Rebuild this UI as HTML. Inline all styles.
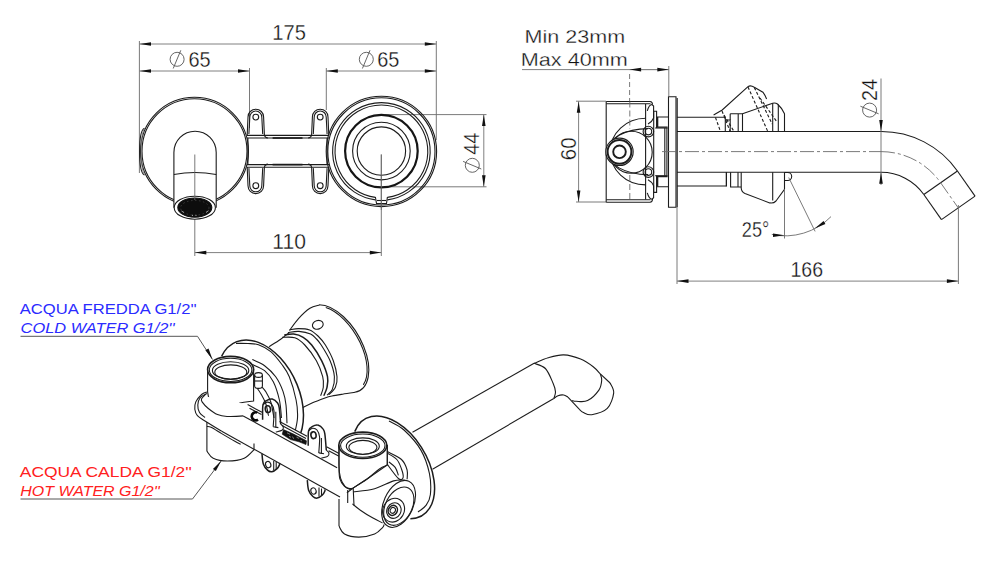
<!DOCTYPE html>
<html><head><meta charset="utf-8"><style>
html,body{margin:0;padding:0;background:#fff;width:1000px;height:568px;overflow:hidden}
svg{display:block}
.o{fill:none;stroke:#1c1c1c;stroke-width:1.1}
.d{fill:none;stroke:#808080;stroke-width:1}
.e{fill:none;stroke:#6b6b6b;stroke-width:0.9}
.c{fill:none;stroke:#6b6b6b;stroke-width:0.9;stroke-dasharray:14 3 3 3}
.ds{fill:none;stroke:#555;stroke-width:0.9}
.tl{font-family:"Liberation Sans",sans-serif}
.t{font-family:"Liberation Sans",sans-serif;stroke:#fff;stroke-width:0.3px;paint-order:fill stroke}
</style></head><body>
<svg width="1000" height="568" viewBox="0 0 1000 568">
<line x1="139.40" y1="41.00" x2="139.40" y2="173.00" class="e" />
<line x1="436.30" y1="41.00" x2="436.30" y2="140.00" class="e" />
<line x1="139.50" y1="44.00" x2="436.30" y2="44.00" class="d" />
<path d="M139.50,44.00 L151.00,42.20 L151.00,45.80 Z" fill="#111" stroke="none"/>
<path d="M436.30,44.00 L424.80,45.80 L424.80,42.20 Z" fill="#111" stroke="none"/>
<text x="272.3" y="40.3" font-size="22" fill="#111" text-anchor="start" textLength="33.6" lengthAdjust="spacingAndGlyphs" style="" class="t">175</text>
<line x1="139.50" y1="71.00" x2="249.50" y2="71.00" class="d" />
<line x1="249.50" y1="68.00" x2="249.50" y2="128.00" class="e" />
<path d="M139.50,71.00 L151.00,69.20 L151.00,72.80 Z" fill="#111" stroke="none"/>
<path d="M249.50,71.00 L238.00,72.80 L238.00,69.20 Z" fill="#111" stroke="none"/>
<g transform="rotate(0 177.1 59.3)">
<circle cx="177.10" cy="59.30" r="7.00" class="ds" />
<line x1="180.80" y1="50.30" x2="173.20" y2="68.50" class="ds" />
</g>
<text x="188.4" y="67.2" font-size="22" fill="#111" text-anchor="start" textLength="22.2" lengthAdjust="spacingAndGlyphs" style="" class="t">65</text>
<line x1="326.30" y1="71.00" x2="436.30" y2="71.00" class="d" />
<line x1="326.30" y1="68.00" x2="326.30" y2="110.00" class="e" />
<path d="M326.30,71.00 L337.80,69.20 L337.80,72.80 Z" fill="#111" stroke="none"/>
<path d="M436.30,71.00 L424.80,72.80 L424.80,69.20 Z" fill="#111" stroke="none"/>
<g transform="rotate(0 366.3 59.3)">
<circle cx="366.30" cy="59.30" r="7.00" class="ds" />
<line x1="370.00" y1="50.30" x2="362.40" y2="68.50" class="ds" />
</g>
<text x="377.2" y="67.2" font-size="22" fill="#111" text-anchor="start" textLength="22.2" lengthAdjust="spacingAndGlyphs" style="" class="t">65</text>
<line x1="194.80" y1="154.50" x2="194.80" y2="256.00" class="e" />
<line x1="381.30" y1="154.50" x2="381.30" y2="256.00" class="e" />
<line x1="194.80" y1="252.60" x2="381.30" y2="252.60" class="d" />
<path d="M194.80,252.60 L206.30,250.80 L206.30,254.40 Z" fill="#111" stroke="none"/>
<path d="M381.30,252.60 L369.80,254.40 L369.80,250.80 Z" fill="#111" stroke="none"/>
<text x="272.3" y="248.7" font-size="22" fill="#111" text-anchor="start" textLength="33.6" lengthAdjust="spacingAndGlyphs" style="" class="t">110</text>
<line x1="385.00" y1="114.60" x2="486.50" y2="114.60" class="e" />
<line x1="385.00" y1="186.80" x2="486.50" y2="186.80" class="e" />
<line x1="483.80" y1="114.60" x2="483.80" y2="186.80" class="d" />
<path d="M483.80,114.60 L485.60,126.10 L482.00,126.10 Z" fill="#111" stroke="none"/>
<path d="M483.80,186.80 L482.00,175.30 L485.60,175.30 Z" fill="#111" stroke="none"/>
<g transform="rotate(90 472.3 165.3)">
<circle cx="472.30" cy="165.30" r="7.00" class="ds" />
<line x1="476.00" y1="156.30" x2="468.40" y2="174.50" class="ds" />
</g>
<text x="0" y="0" font-size="22" fill="#111" textLength="22" lengthAdjust="spacingAndGlyphs" transform="translate(479.2,154.8) rotate(-90)" class="t">44</text>
<circle cx="194.50" cy="151.30" r="54.00" class="o" />
<circle cx="194.50" cy="151.30" r="52.50" class="o" />
<path d="M144.5,128.2 Q139.6,130 139.6,151.5 Q139.6,173 144.5,175.1" class="o" />
<path d="M144.5,128.2 Q141.2,133 141.2,151.5 Q141.2,170 144.5,175.1" class="o" style="stroke:#777;stroke-width:0.8"/>
<line x1="247.00" y1="135.40" x2="329.00" y2="135.40" class="o" />
<line x1="247.00" y1="138.00" x2="329.00" y2="138.00" class="o" />
<line x1="247.00" y1="164.60" x2="329.00" y2="164.60" class="o" />
<line x1="247.00" y1="167.20" x2="329.00" y2="167.20" class="o" />
<line x1="272.60" y1="138.00" x2="302.50" y2="138.00" class="o" style="stroke-width:1.7"/>
<line x1="272.60" y1="164.60" x2="302.50" y2="164.60" class="o" style="stroke-width:1.7"/>
<line x1="247.90" y1="138.00" x2="247.90" y2="164.60" class="o" />
<line x1="327.10" y1="138.00" x2="327.10" y2="164.60" class="o" />
<path d="M247.20000000000002,135.2 L248.0,117.0 A7.8,7.8 0 0 1 263.6,117.0 L264.40000000000003,135.2" class="o" />
<path d="M248.9,134.0 L249.8,117.0 A6.0,6.0 0 0 1 261.8,117.0 L262.7,134.0" class="o" />
<path d="M264.40000000000003,135.2 Q265.00000000000006,137.79999999999998 267.90000000000003,138.0" class="o" />
<circle cx="255.80" cy="117.10" r="2.90" class="o" />
<path d="M311.59999999999997,135.2 L312.4,117.0 A7.8,7.8 0 0 1 328.0,117.0 L328.8,135.2" class="o" />
<path d="M313.3,134.0 L314.2,117.0 A6.0,6.0 0 0 1 326.2,117.0 L327.09999999999997,134.0" class="o" />
<path d="M311.59999999999997,135.2 Q310.99999999999994,137.79999999999998 308.09999999999997,138.0" class="o" />
<circle cx="320.20" cy="117.10" r="2.90" class="o" />
<path d="M247.20000000000002,166.9 L248.0,185.79999999999998 A7.8,7.8 0 0 0 263.6,185.79999999999998 L264.40000000000003,166.9" class="o" />
<path d="M248.9,168.1 L249.8,185.79999999999998 A6.0,6.0 0 0 0 261.8,185.79999999999998 L262.7,168.1" class="o" />
<path d="M264.40000000000003,166.9 Q265.00000000000006,164.3 267.90000000000003,164.1" class="o" />
<circle cx="255.80" cy="185.70" r="2.90" class="o" />
<path d="M311.59999999999997,166.9 L312.4,185.79999999999998 A7.8,7.8 0 0 0 328.0,185.79999999999998 L328.8,166.9" class="o" />
<path d="M313.3,168.1 L314.2,185.79999999999998 A6.0,6.0 0 0 0 326.2,185.79999999999998 L327.09999999999997,168.1" class="o" />
<path d="M311.59999999999997,166.9 Q310.99999999999994,164.3 308.09999999999997,164.1" class="o" />
<circle cx="320.20" cy="185.70" r="2.90" class="o" />
<path d="M173.9,207.7 L173.9,152.4 A21.15,21.15 0 0 1 216.2,152.4 L216.2,207.7" class="o" style="fill:#fff"/>
<path d="M173.9,174.5 Q195,170.5 216.2,174.5" class="o" />
<ellipse cx="194.80" cy="207.70" rx="20.60" ry="11.50" transform="rotate(0 194.80 207.70)" class="o" style="fill:#fff"/>
<ellipse cx="194.80" cy="207.60" rx="17.00" ry="9.60" transform="rotate(0 194.80 207.60)" class="o" style="fill:#0d0d0d;stroke:#111"/>
<ellipse cx="194.80" cy="207.80" rx="14.20" ry="7.40" transform="rotate(0 194.80 207.80)" class="o" style="fill:none;stroke:#555;stroke-width:0.6;stroke-dasharray:1.5 2.5"/>
<path d="M181.5,211 l2.5,1.5 M206,212.5 l2.5,-1.8 M192.5,214.8 l0,1.2 M196,214.8 l0,1.2" class="o" style="stroke:#bbb;stroke-width:0.8"/>
<line x1="194.80" y1="154.50" x2="194.80" y2="200.00" class="e" />
<circle cx="381.40" cy="151.40" r="55.20" class="o" />
<circle cx="381.40" cy="151.40" r="53.60" class="o" />
<path d="M375.40,199.83 A48.8,48.8 0 1 1 387.40,199.83" class="o" />
<path d="M375.40,197.41 A46.4,46.4 0 1 1 387.40,197.41" class="o" />
<path d="M375.4,197 L376.5,203.5 L386.5,203.5 L387.4,197" class="o" />
<line x1="377.00" y1="200.50" x2="386.00" y2="200.50" class="o" />
<circle cx="381.40" cy="151.10" r="36.30" class="o" style="stroke-width:2.2;stroke:#151515"/>
<circle cx="381.40" cy="151.10" r="28.80" class="o" />
<circle cx="381.40" cy="151.10" r="24.20" class="o" />
<line x1="381.30" y1="154.50" x2="381.30" y2="210.00" class="e" />
<text x="524.6" y="42.8" font-size="19.2" fill="#111" text-anchor="start" textLength="100.5" lengthAdjust="spacingAndGlyphs" style="" class="t">Min 23mm</text>
<text x="520.8" y="66.3" font-size="19.2" fill="#111" text-anchor="start" textLength="107" lengthAdjust="spacingAndGlyphs" style="" class="t">Max 40mm</text>
<line x1="522.00" y1="69.60" x2="668.80" y2="69.60" class="d" />
<line x1="629.60" y1="74.00" x2="629.60" y2="101.00" class="e" style="stroke-dasharray:5 3"/>
<line x1="668.80" y1="66.00" x2="668.80" y2="96.00" class="e" />
<line x1="629.60" y1="69.60" x2="668.80" y2="69.60" class="d" />
<path d="M629.60,69.60 L641.10,67.80 L641.10,71.40 Z" fill="#111" stroke="none"/>
<path d="M668.80,69.60 L657.30,71.40 L657.30,67.80 Z" fill="#111" stroke="none"/>
<line x1="576.00" y1="101.20" x2="606.00" y2="101.20" class="e" />
<line x1="576.00" y1="202.00" x2="606.00" y2="202.00" class="e" />
<line x1="578.60" y1="101.20" x2="578.60" y2="202.00" class="d" />
<path d="M578.60,101.20 L580.40,112.70 L576.80,112.70 Z" fill="#111" stroke="none"/>
<path d="M578.60,202.00 L576.80,190.50 L580.40,190.50 Z" fill="#111" stroke="none"/>
<text x="0" y="0" font-size="22" fill="#111" textLength="22.8" lengthAdjust="spacingAndGlyphs" transform="translate(576.3,160.2) rotate(-90)" class="t">60</text>
<path d="M606.2,101.5 L650,101.5 Q652.5,101.8 652.5,104.5 M606.2,103.8 L650.5,103.8" class="o" />
<path d="M606.2,202.2 L650,202.2 Q652.5,202 652.5,199 M606.2,199.8 L650.5,199.8" class="o" />
<line x1="606.20" y1="101.50" x2="606.20" y2="202.20" class="o" />
<line x1="645.60" y1="104.00" x2="645.60" y2="199.50" class="o" />
<path d="M647.3,110.8 Q649,104.7 652,104.5 L653.6,106.0 L653.6,118.0 Q652,122.0 648,124.0" class="o" />
<path d="M653.9,111.3 L656.6,111.3 L656.6,128.0" class="o" />
<circle cx="648.40" cy="131.60" r="5.30" class="o" />
<circle cx="648.40" cy="131.60" r="3.30" class="o" />
<path d="M656.6,117.0 L668.3,117.0 M656.6,127.1 L667.6,127.1" class="o" />
<line x1="657.40" y1="117.00" x2="657.40" y2="127.10" class="o" style="stroke-width:1.8"/>
<path d="M647.3,192.89999999999998 Q649,199.0 652,199.2 L653.6,197.7 L653.6,185.7 Q652,181.7 648,179.7" class="o" />
<path d="M653.9,192.39999999999998 L656.6,192.39999999999998 L656.6,175.7" class="o" />
<circle cx="648.40" cy="172.10" r="5.30" class="o" />
<circle cx="648.40" cy="172.10" r="3.30" class="o" />
<path d="M656.6,186.7 L668.3,186.7 M656.6,176.6 L667.6,176.6" class="o" />
<line x1="657.40" y1="186.70" x2="657.40" y2="176.60" class="o" style="stroke-width:1.8"/>
<line x1="653.70" y1="111.30" x2="653.70" y2="192.40" class="o" />
<line x1="655.20" y1="128.00" x2="667.60" y2="128.00" class="o" />
<line x1="655.20" y1="175.70" x2="667.60" y2="175.70" class="o" />
<line x1="666.90" y1="128.00" x2="666.90" y2="175.70" class="o" />
<line x1="664.80" y1="128.00" x2="664.80" y2="175.70" class="o" />
<path d="M645.6,118.3 A35.5,33.3 0 0 0 610.2,151.6 A35.5,33.3 0 0 0 645.6,184.9" class="o" />
<path d="M648,128.6 A41,23 0 0 0 607,151.6 A41,23 0 0 0 648,174.6" class="o" />
<circle cx="631.20" cy="152.20" r="21.00" class="o" />
<line x1="629.80" y1="101.50" x2="629.80" y2="129.00" class="e" style="stroke-dasharray:6 3"/>
<line x1="629.80" y1="175.00" x2="629.80" y2="202.20" class="e" style="stroke-dasharray:6 3"/>
<circle cx="619.50" cy="151.80" r="13.70" class="o" style="fill:#fff"/>
<circle cx="619.50" cy="151.80" r="11.90" class="o" style="stroke-width:2"/>
<circle cx="619.50" cy="151.80" r="6.30" class="o" style="stroke-width:1.9"/>
<path d="M668.5,96.8 L676,96.8 L676,207.2 L668.5,207.2 Z" class="o" />
<line x1="677.20" y1="98.00" x2="677.20" y2="207.20" class="o" />
<line x1="677.00" y1="117.20" x2="725.30" y2="117.20" class="o" />
<line x1="677.00" y1="131.50" x2="881.00" y2="131.50" class="o" />
<line x1="677.00" y1="172.30" x2="881.00" y2="172.30" class="o" />
<line x1="677.00" y1="186.00" x2="726.40" y2="186.00" class="o" />
<line x1="725.30" y1="117.20" x2="725.30" y2="131.50" class="o" />
<line x1="726.40" y1="172.30" x2="726.40" y2="186.00" class="o" />
<line x1="662.00" y1="151.60" x2="881.00" y2="151.60" class="c" />
<path d="M725.3,120 L730.2,120 L730.2,131.5" class="o" />
<path d="M730.2,113.8 L742.5,113.8 L742.5,131.5 M738.2,113.8 L738.2,131.5 M730.2,113.8 L730.2,120" class="o" />
<path d="M742.5,113.8 L772.7,103.2 Q775.2,102.5 777.5,104 Q782,108 784.5,113.8 L784.5,131.5" class="o" />
<line x1="772.70" y1="103.20" x2="772.70" y2="131.50" class="o" />
<line x1="778.30" y1="104.50" x2="778.30" y2="131.50" class="o" />
<path d="M713.6,115 L722.2,110 L748,86.6 Q750.5,84.8 754.3,87.3 L762.9,92.2 Q765,95 766.6,99" class="o" />
<line x1="748.00" y1="87.00" x2="767.80" y2="131.50" class="o" style="stroke-dasharray:3 2"/>
<line x1="754.30" y1="87.60" x2="772.20" y2="124.00" class="o" style="stroke-dasharray:3 2"/>
<line x1="760.00" y1="98.00" x2="777.00" y2="122.00" class="o" style="stroke-dasharray:3 2"/>
<line x1="715.50" y1="117.50" x2="720.30" y2="131.00" class="o" style="stroke-dasharray:3 2"/>
<line x1="722.00" y1="111.00" x2="730.20" y2="131.50" class="o" style="stroke-dasharray:3 2"/>
<line x1="724.00" y1="115.00" x2="734.00" y2="131.50" class="o" style="stroke-dasharray:3 2"/>
<path d="M726.4,172.3 L726.4,186.5 M730.6,172.3 L730.6,187 L741.2,187 M738,172.3 L738,187" class="o" />
<path d="M741.2,172.3 L741.2,188 Q741.5,192 745,193.5 L769.7,202.9 Q773.5,203.6 776,201 L784.5,189.2 L784.5,172.3" class="o" />
<line x1="772.70" y1="172.30" x2="772.70" y2="200.50" class="o" />
<path d="M784.5,172.5 L787.7,172.5 A4,4 0 0 1 787.7,180.5 L784.5,180.5" class="o" />
<line x1="784.50" y1="189.20" x2="784.50" y2="238.50" class="e" />
<line x1="788.70" y1="177.50" x2="815.10" y2="231.40" class="e" />
<path d="M771.8,234.4 A64,64 0 0 0 831,216.6" class="e" />
<path d="M784.50,235.30 L773.00,237.10 L773.00,233.50 Z" fill="#111" stroke="none"/>
<path d="M814.60,228.40 L823.57,220.99 L825.41,224.08 Z" fill="#111" stroke="none"/>
<text x="741.8" y="237" font-size="22" fill="#111" text-anchor="start" textLength="27.5" lengthAdjust="spacingAndGlyphs" style="" class="t">25°</text>
<path d="M881,131.5 A93,93 0 0 1 957.43,170.99" class="o" />
<path d="M881,172.3 A52.2,52.2 0 0 1 923.84,194.50" class="o" />
<line x1="923.84" y1="194.50" x2="957.43" y2="170.99" class="o" />
<line x1="957.43" y1="170.99" x2="975.04" y2="196.13" class="o" />
<line x1="923.84" y1="194.50" x2="941.45" y2="219.65" class="o" />
<line x1="975.04" y1="196.13" x2="941.45" y2="219.65" class="o" />
<path d="M881,151.6 A72.8,72.8 0 0 1 940.63,182.74 L958.24,207.89" class="c" />
<line x1="881.00" y1="78.50" x2="881.00" y2="185.00" class="e" />
<path d="M881.00,131.50 L879.20,120.00 L882.80,120.00 Z" fill="#111" stroke="none"/>
<path d="M881.00,172.30 L882.80,183.80 L879.20,183.80 Z" fill="#111" stroke="none"/>
<g transform="rotate(90 869.6 110.1)">
<circle cx="869.60" cy="110.10" r="7.00" class="ds" />
<line x1="873.30" y1="101.10" x2="865.70" y2="119.30" class="ds" />
</g>
<text x="0" y="0" font-size="22" fill="#111" textLength="22" lengthAdjust="spacingAndGlyphs" transform="translate(877.3,101) rotate(-90)" class="t">24</text>
<line x1="677.00" y1="207.20" x2="677.00" y2="284.00" class="e" />
<line x1="958.40" y1="205.00" x2="958.40" y2="284.00" class="e" />
<line x1="677.00" y1="281.10" x2="958.40" y2="281.10" class="d" />
<path d="M677.00,281.10 L688.50,279.30 L688.50,282.90 Z" fill="#111" stroke="none"/>
<path d="M958.40,281.10 L946.90,282.90 L946.90,279.30 Z" fill="#111" stroke="none"/>
<text x="790.5" y="277.3" font-size="22" fill="#111" text-anchor="start" textLength="32.6" lengthAdjust="spacingAndGlyphs" style="" class="t">166</text>
<text x="19.8" y="313.9" font-size="14.9" fill="#2b2bff" text-anchor="start" textLength="177" lengthAdjust="spacingAndGlyphs" style="" class="tl">ACQUA FREDDA G1/2''</text>
<text x="20.6" y="332.7" font-size="14.9" fill="#2b2bff" text-anchor="start" textLength="154" lengthAdjust="spacingAndGlyphs" style="font-style:italic" class="tl">COLD WATER G1/2''</text>
<path d="M20.5,336.3 L197.5,336.3 L212.5,359.5" class="d" style="stroke:#555"/>
<path d="M212.50,359.50 L205.38,350.29 L208.54,348.56 Z" fill="#111" stroke="none"/>
<text x="19.8" y="477.2" font-size="14.9" fill="#ff2020" text-anchor="start" textLength="172" lengthAdjust="spacingAndGlyphs" style="" class="tl">ACQUA CALDA G1/2''</text>
<text x="20.3" y="495.5" font-size="14.9" fill="#ff2020" text-anchor="start" textLength="139.5" lengthAdjust="spacingAndGlyphs" style="font-style:italic" class="tl">HOT WATER G1/2''</text>
<path d="M20.5,499 L192.5,499 L221.3,460.8" class="d" style="stroke:#555"/>
<path d="M221.30,460.80 L215.84,471.08 L212.96,468.92 Z" fill="#111" stroke="none"/>
<path d="M412.5,432.3 L534.1,363.3" class="o" />
<path d="M534.1,363.3 C536.5,362.4 543.3,359.1 548.2,357.7 C553.1,356.3 558.3,354.7 563.7,354.9 C569.1,355.1 575.7,357.1 580.6,359.1 C585.5,361.1 589.9,364.3 593.2,366.8 C596.5,369.3 599.1,372.7 600.3,373.9" class="o" />
<path d="M600.3,373.9 L610.1,383.0" class="o" />
<path d="M610.1,383.0 C610.7,384.6 614.2,388.7 613.7,392.9 C613.2,397.1 610.9,404.8 607.3,408.4 C603.6,412.0 595.8,414.0 591.8,414.7 C587.8,415.4 585.5,413.5 583.4,412.6 C581.3,411.7 579.9,409.7 579.2,409.1" class="o" />
<path d="M579.2,409.1 L567.9,397.1" class="o" />
<path d="M567.9,397.1 C567.2,396.8 565.4,395.2 563.7,395.0 C562.1,394.8 559.6,395.1 558.0,395.7 C556.4,396.3 554.5,398.0 553.8,398.5" class="o" />
<path d="M553.8,398.5 L432.5,469.2" class="o" />
<path d="M534.1,363.3 C536.0,364.2 542.2,365.2 545.4,368.5 C548.5,371.8 551.3,379.1 553.0,383.0 C554.7,386.9 555.4,389.4 555.5,392.0 C555.6,394.6 554.1,397.4 553.8,398.5" class="o" />
<path d="M600.3,373.9 C600.5,374.9 601.9,377.5 601.7,380.2 C601.5,382.9 601.2,386.7 598.9,390.1 C596.5,393.5 591.4,398.7 587.6,400.6 C583.8,402.5 578.9,401.3 576.3,401.3 C573.7,401.3 572.8,400.7 572.1,400.6" class="o" />
<path d="M354.74,431.61 A56.10,34.40 59.30 0 1 397.20,422.66 A56.10,34.40 59.30 0 1 434.01,480.29 A56.10,34.40 59.30 0 1 410.38,518.73" class="o" style="stroke-width:1.5"/>
<path d="M389.0,421.0 C391.5,422.5 398.7,425.1 404.0,430.0 C409.3,434.9 416.7,442.9 420.9,450.1 C425.1,457.3 427.8,466.0 429.4,473.4 C431.0,480.8 430.9,489.2 430.4,494.5 C429.9,499.8 428.3,502.2 426.2,505.1 C424.1,508.0 419.4,510.9 418.0,512.0" class="o" />
<path d="M289.5,330.5 C291.0,328.5 295.1,322.3 298.5,318.6 C301.9,314.9 306.4,310.6 309.9,308.3 C313.4,306.0 317.9,305.6 319.5,305.0" class="o" />
<path d="M319.11,304.73 A48.40,26.30 59.80 0 1 363.60,346.26 A48.40,26.30 59.80 0 1 354.82,392.23" class="o" />
<path d="M325.77,307.51 A46.60,24.60 59.80 0 1 359.86,342.05 A46.60,24.60 59.80 0 1 363.29,384.83" class="o" />
<ellipse cx="317.80" cy="324.80" rx="5.50" ry="4.30" transform="rotate(-18.00 317.80 324.80)" class="o" />
<path d="M354.9,392.4 C352.8,392.7 346.4,393.6 342.6,394.2 C338.8,394.8 334.9,395.4 332.0,396.0 C329.1,396.6 328.3,396.8 325.0,398.0 C321.7,399.2 315.7,401.4 312.0,403.0 C308.3,404.6 304.2,406.8 302.7,407.5" class="o" />
<path d="M289.5,329.9 C291.0,329.7 295.1,328.6 298.5,328.6 C301.9,328.6 306.4,328.7 309.6,329.9 C312.9,331.1 315.4,333.5 318.0,336.0 C320.6,338.5 322.8,340.9 325.4,345.0 C327.9,349.1 331.4,355.5 333.3,360.8 C335.2,366.1 336.6,372.3 337.0,376.7 C337.4,381.1 336.7,384.3 335.4,387.3 C334.1,390.3 330.2,393.4 329.1,394.6" class="o" />
<path d="M287.9,332.5 C289.8,332.3 295.2,331.1 299.0,331.4 C302.8,331.7 307.7,332.8 310.6,334.1 C313.5,335.4 314.7,337.2 316.5,339.0 C318.3,340.8 318.9,341.4 321.2,345.0 C323.5,348.6 327.9,355.5 330.1,360.8 C332.3,366.1 334.0,371.9 334.4,376.7 C334.8,381.5 333.5,386.3 332.3,389.4 C331.1,392.5 327.9,394.2 327.0,395.2" class="o" />
<path d="M284.2,335.1 C285.8,334.9 290.5,333.7 293.7,334.1 C296.9,334.5 300.2,335.5 303.2,337.3 C306.2,339.1 308.6,341.1 311.7,345.0 C314.8,348.9 319.1,355.5 321.7,360.8 C324.3,366.1 326.6,372.3 327.5,376.7 C328.4,381.1 327.6,384.1 327.0,387.3 C326.4,390.5 324.3,394.3 323.8,395.7" class="o" style="stroke-width:1.5"/>
<path d="M282.1,337.3 C284.2,337.4 291.0,336.5 294.8,337.8 C298.6,339.1 301.2,341.2 304.8,345.0 C308.4,348.8 313.4,355.5 316.4,360.8 C319.4,366.1 321.5,372.3 322.7,376.7 C323.9,381.1 323.6,384.1 323.3,387.3 C323.0,390.5 321.1,394.3 320.6,395.7" class="o" />
<path d="M269.0,346.6 C270.9,345.4 277.3,341.6 280.7,339.2 C284.1,336.8 287.9,333.6 289.3,332.5" class="o" />
<path d="M221.67,356.15 A60.00,38.60 65.10 0 1 258.31,342.35 A60.00,38.60 65.10 0 1 297.00,384.40 A60.00,38.60 65.10 0 1 298.04,439.17" class="o" style="stroke-width:1.5"/>
<path d="M236.0,343.4 C238.0,343.4 244.2,343.3 248.0,343.5 C251.8,343.7 254.7,343.4 258.5,344.8 C262.3,346.2 266.9,348.3 270.8,351.6 C274.7,354.9 278.8,360.3 281.9,364.5 C285.0,368.7 286.9,370.9 289.3,376.8 C291.7,382.7 294.7,393.1 296.1,400.0 C297.5,406.9 297.8,412.3 297.5,418.0 C297.2,423.7 295.0,431.3 294.5,434.0" class="o" />
<path d="M252.3,359.6 C254.4,360.6 260.7,362.8 264.6,365.7 C268.5,368.6 272.6,372.5 275.7,376.8 C278.8,381.1 281.4,386.9 283.1,391.6 C284.8,396.3 285.4,399.7 286.0,405.0 C286.6,410.3 286.8,420.2 287.0,423.3" class="o" />
<path d="M252.3,364.5 C254.4,365.5 261.1,367.8 264.6,370.7 C268.1,373.6 270.8,376.9 273.3,381.8 C275.8,386.7 278.0,394.0 279.4,400.0 C280.8,406.0 281.1,415.0 281.5,418.0" class="o" />
<path d="M257.0,388.0 C257.7,389.0 259.5,391.3 261.0,394.0 C262.5,396.7 264.6,400.3 265.9,404.0 C267.1,407.7 268.1,414.0 268.5,416.0" class="o" />
<path d="M262.0,387.0 C262.7,387.8 264.5,389.5 266.0,392.0 C267.5,394.5 269.5,397.7 270.8,402.0 C272.1,406.3 273.5,415.3 274.0,418.0" class="o" />
<path d="M254.6,375 L254.6,386 A3.9,2.4 0 0 0 262.4,386 L262.4,375" class="o" style="fill:#fff"/>
<ellipse cx="258.50" cy="375.00" rx="3.90" ry="2.40" transform="rotate(0.00 258.50 375.00)" class="o" />
<path d="M254.6,381.0 L262.4,381.0" class="o" />
<path d="M207.6,369.6 L207.6,391.9 C208,397 211,406 216,409.6 C224,411 232,406 240,403 C245,401.6 250,401.6 253.6,401 L253.6,369.6 Z" class="o" style="fill:#fff"/>
<ellipse cx="230.60" cy="369.60" rx="23.00" ry="13.20" transform="rotate(0.00 230.60 369.60)" class="o" style="stroke-width:1.6;fill:#fff"/>
<ellipse cx="230.60" cy="369.90" rx="21.30" ry="11.60" transform="rotate(0.00 230.60 369.90)" class="o" />
<ellipse cx="230.60" cy="370.40" rx="18.20" ry="8.70" transform="rotate(0.00 230.60 370.40)" class="o" />
<ellipse cx="230.80" cy="372.20" rx="16.00" ry="7.30" transform="rotate(0.00 230.80 372.20)" class="o" />
<path d="M201,395.5 L247.6,404.6 L339.1,453.5 L339.1,497.1 L221.7,431.2 L205.8,421.5 C196,416 193,404 201,395.5 Z" class="o" style="fill:#fff;stroke:none"/>
<path d="M206.9,391.9 C206.0,392.3 203.4,392.8 201.6,394.5 C199.8,396.2 196.9,399.4 195.8,401.9 C194.7,404.4 194.5,407.0 194.8,409.3 C195.1,411.6 195.6,413.6 197.4,415.6 C199.2,417.6 201.8,418.9 205.8,421.5 C209.9,424.1 219.0,429.6 221.7,431.2" class="o" />
<path d="M207.0,393.5 C205.8,394.2 201.5,396.1 200.0,398.0 C198.5,399.9 197.9,402.6 197.8,405.0 C197.7,407.4 198.3,410.4 199.5,412.5 C200.7,414.6 204.1,416.7 205.0,417.5" class="o" />
<path d="M221.7,431.2 L340.0,497.1" class="o" />
<path d="M205.8,394.0 C205.1,394.8 202.2,397.4 201.6,398.7 C201.0,400.0 201.0,400.3 202.1,401.9 C203.2,403.5 205.4,406.1 208.0,408.2 C210.6,410.3 214.3,413.2 217.5,414.6 C220.7,416.0 222.7,416.3 227.0,416.5 C231.3,416.7 240.5,416.0 243.2,415.9" class="o" />
<path d="M243.2,415.9 L337.1,467.7" class="o" />
<path d="M247.6,404.6 L262.0,412.3" class="o" />
<path d="M279.5,421.6 L307.0,436.3" class="o" />
<path d="M326.5,446.8 L339.1,453.5" class="o" />
<path d="M282.0,425.6 L306.0,438.4" class="o" />
<path d="M328.6,450.7 L339.1,456.3" class="o" />
<path d="M249.5,408.2 L261.5,414.6" class="o" />
<path d="M257.2,412.6 A4,4 0 1 0 258,419.6" class="o" style="stroke-width:2.6;stroke:#0a0a0a"/>
<path d="M283.5,429.6 L293,433.8 L306.5,440.8 L306,444.6 L299,441.8 L290.5,439.6 L282.2,434.2 Z" style="fill:#111;stroke:#111;stroke-width:0.6"/>
<path d="M287,432.8 l3,1.5 M292.5,436.6 l1.2,2.2 M296.5,437.2 l2.6,1.2 M300.5,440.3 l1.5,0.6 M289,436.3 l2,1" style="fill:none;stroke:#aaa;stroke-width:0.7"/>
<path d="M262.6,419.7 C262.7,417.2 262.3,407.9 263.0,404.7 C263.7,401.5 265.4,401.2 267.0,400.3 C268.6,399.4 270.5,398.6 272.3,399.0 C274.1,399.4 276.4,401.4 277.6,403.0 C278.8,404.6 278.8,404.8 279.3,408.3 C279.8,411.8 280.5,421.5 280.7,424.1" class="o" style="stroke-width:1.5"/>
<path d="M263.0,404.7 C263.7,404.3 265.6,402.2 267.0,402.1 C268.4,402.0 270.2,402.4 271.4,403.9 C272.6,405.4 273.7,407.1 274.0,410.9 C274.3,414.7 273.3,424.2 273.2,426.8" class="o" />
<path d="M275.8,411.8 L275.8,427.6" class="o" />
<path d="M280.7,424.1 C281.1,424.6 283.1,425.8 283.3,426.8 C283.5,427.8 283.2,429.4 282.0,430.3 C280.8,431.2 276.8,431.7 275.8,432.0" class="o" />
<path d="M273.2,426.8 L278.4,427.6" class="o" />
<ellipse cx="267.90" cy="409.10" rx="2.60" ry="3.40" transform="rotate(-10.00 267.90 409.10)" class="o" style="stroke-width:1.6"/>
<path d="M308.2,445.8 C308.3,443.3 307.9,434.0 308.6,430.8 C309.3,427.6 311.1,427.3 312.6,426.4 C314.2,425.4 316.1,424.6 317.9,425.1 C319.7,425.5 322.0,427.5 323.2,429.1 C324.4,430.6 324.4,430.9 324.9,434.4 C325.4,437.9 326.1,447.6 326.3,450.2" class="o" style="stroke-width:1.5"/>
<path d="M308.6,430.8 C309.3,430.4 311.2,428.3 312.6,428.2 C314.0,428.1 315.8,428.5 317.0,430.0 C318.2,431.5 319.3,433.2 319.6,437.0 C319.9,440.8 318.9,450.2 318.8,452.9" class="o" />
<path d="M321.4,437.9 L321.4,453.7" class="o" />
<path d="M326.3,450.2 C326.7,450.6 328.7,451.9 328.9,452.9 C329.1,453.9 328.9,455.5 327.6,456.4 C326.4,457.3 322.4,457.8 321.4,458.1" class="o" />
<path d="M318.8,452.9 L324.0,453.7" class="o" />
<ellipse cx="313.50" cy="435.20" rx="2.60" ry="3.40" transform="rotate(-10.00 313.50 435.20)" class="o" style="stroke-width:1.6"/>
<path d="M262.0,453.8 C262.2,455.5 262.4,461.2 263.3,463.9 C264.2,466.6 266.2,468.8 267.6,470.1 C269.0,471.4 270.4,471.9 271.9,471.7 C273.4,471.5 275.5,470.1 276.8,468.9 C278.1,467.7 279.2,465.6 279.6,464.6 C280.0,463.6 279.4,463.3 279.3,463.0" class="o" style="stroke-width:1.5"/>
<path d="M273.7,461.1 L273.7,470.1" class="o" />
<path d="M276.2,462.1 L276.2,469.1" class="o" />
<ellipse cx="268.20" cy="464.60" rx="2.60" ry="3.20" transform="rotate(-20.00 268.20 464.60)" class="o" />
<path d="M307.3,480.2 C307.5,481.9 307.7,487.6 308.6,490.3 C309.5,493.0 311.5,495.2 312.9,496.5 C314.3,497.8 315.7,498.3 317.2,498.1 C318.7,497.9 320.8,496.5 322.1,495.3 C323.4,494.1 324.5,492.0 324.9,491.0 C325.3,490.0 324.7,489.7 324.6,489.4" class="o" style="stroke-width:1.5"/>
<path d="M319.0,487.5 L319.0,496.5" class="o" />
<path d="M321.5,488.5 L321.5,495.5" class="o" />
<ellipse cx="313.50" cy="491.00" rx="2.60" ry="3.20" transform="rotate(-20.00 313.50 491.00)" class="o" />
<path d="M206.9,422.0 L206.9,451.2" class="o" />
<path d="M206.9,426.5 C207.6,426.6 208.6,426.1 211.1,427.3 C213.6,428.5 217.8,431.3 221.7,433.6 C225.6,435.9 231.2,439.2 234.4,441.0 C237.6,442.8 239.6,443.7 240.7,444.2" class="o" />
<path d="M206.9,451.2 C207.9,452.4 209.8,456.6 213.2,458.2 C216.6,459.8 222.1,461.0 227.3,461.0 C232.5,461.0 239.8,460.1 244.2,458.2 C248.6,456.3 252.4,451.2 254.0,449.8" class="o" />
<path d="M254.0,449.8 L254.0,443.5" class="o" />
<path d="M339,445.3 L339,465.8 C339,474 341,482 345,486.4 C347,488.5 349,489.5 353.2,488 L366.7,479.3 L387.3,465 L387.3,445.3 Z" class="o" style="fill:#fff"/>
<ellipse cx="362.80" cy="445.30" rx="24.00" ry="13.20" transform="rotate(0.00 362.80 445.30)" class="o" style="stroke-width:1.6;fill:#fff"/>
<ellipse cx="362.80" cy="445.60" rx="22.20" ry="11.60" transform="rotate(0.00 362.80 445.60)" class="o" />
<ellipse cx="362.80" cy="446.20" rx="16.50" ry="8.30" transform="rotate(0.00 362.80 446.20)" class="o" />
<ellipse cx="362.90" cy="447.30" rx="14.00" ry="6.90" transform="rotate(0.00 362.90 447.30)" class="o" />
<path d="M339.0,445.3 C339.0,448.7 338.9,460.3 339.0,465.8 C339.1,471.3 338.9,475.1 339.8,478.5 C340.7,481.9 342.7,484.5 344.5,486.4 C346.3,488.2 349.8,489.1 350.8,489.6" class="o" />
<path d="M387.3,445.3 L387.3,465.0" class="o" />
<path d="M387.3,451.6 C389.7,452.9 398.2,456.4 401.5,459.5 C404.8,462.6 406.2,466.7 407.1,470.0 C408.0,473.3 407.1,477.8 407.1,479.3" class="o" />
<path d="M387.3,453.2 C388.9,454.2 394.4,456.9 396.8,459.5 C399.2,462.1 400.4,466.0 401.5,469.0 C402.6,472.0 403.6,476.1 403.1,477.7 C402.6,479.3 401.0,480.7 398.4,478.5 C395.8,476.3 389.1,466.7 387.3,464.3" class="o" />
<path d="M388.9,461.9 C389.9,462.8 393.6,465.1 395.2,467.4 C396.8,469.6 397.9,474.1 398.4,475.4" class="o" />
<path d="M346.9,492.8 L353.2,488.0 L354.0,505.5" class="o" />
<path d="M347.7,490.0 L347.7,503.0" class="o" />
<path d="M353.2,488.0 C355.4,486.6 362.3,482.5 366.7,479.3 C371.1,476.1 376.0,471.4 379.4,469.0 C382.8,466.6 386.0,465.8 387.3,465.1" class="o" />
<path d="M353.2,492.0 C356.8,491.5 367.9,490.7 374.6,488.8 C381.3,486.9 388.6,482.3 393.6,480.9 C398.6,479.4 402.9,480.2 404.7,480.1" class="o" />
<path d="M352.4,503.9 C353.7,504.9 357.0,507.8 360.4,510.2 C363.8,512.6 369.3,516.0 373.0,518.1 C376.7,520.2 380.9,522.1 382.5,522.9" class="o" />
<ellipse cx="398.60" cy="503.90" rx="24.90" ry="14.80" transform="rotate(-65.80 398.60 503.90)" class="o" style="fill:#fff"/>
<ellipse cx="398.80" cy="506.20" rx="20.50" ry="13.20" transform="rotate(-62.00 398.80 506.20)" class="o" />
<ellipse cx="393.60" cy="510.20" rx="12.20" ry="10.60" transform="rotate(-61.00 393.60 510.20)" class="o" />
<ellipse cx="393.90" cy="510.60" rx="8.00" ry="7.00" transform="rotate(-61.00 393.90 510.60)" class="o" />
<ellipse cx="392.80" cy="510.40" rx="5.20" ry="4.40" transform="rotate(-61.00 392.80 510.40)" class="o" style="stroke-width:1.5"/>
<ellipse cx="392.80" cy="510.40" rx="3.00" ry="2.50" transform="rotate(-61.00 392.80 510.40)" class="o" />
<path d="M339.0,499.1 L339.0,526.1" class="o" />
<path d="M339.0,526.1 C339.9,527.4 341.2,532.2 344.5,534.0 C347.8,535.8 353.8,537.1 358.8,537.1 C363.8,537.1 370.7,535.6 374.6,534.0 C378.6,532.4 380.9,529.2 382.5,527.6 C384.1,526.0 383.8,525.0 384.1,524.5" class="o" />
</svg></body></html>
